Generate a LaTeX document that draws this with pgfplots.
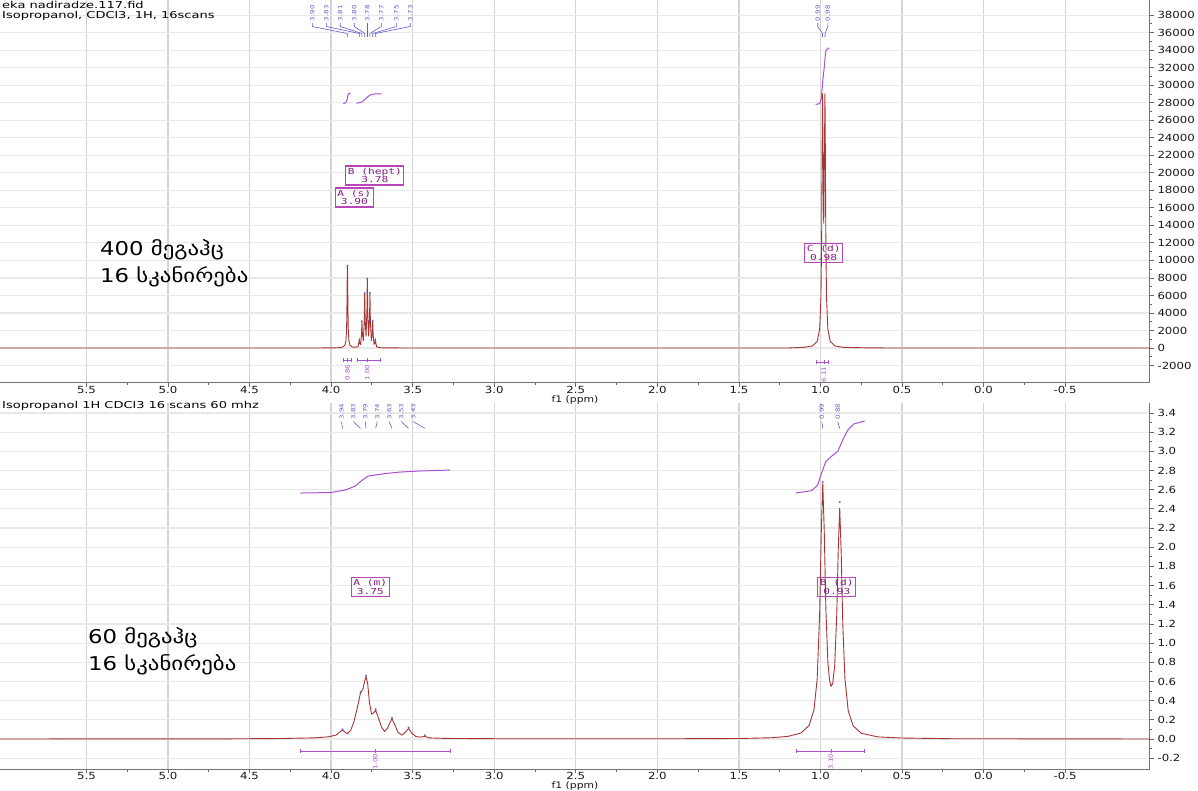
\documentclass[border=0pt]{standalone}
\usepackage{fontspec}
\usepackage{pgfplots}
\pgfplotsset{compat=1.18}
\setmainfont{DejaVu Sans}[FakeStretch=1.2]
\newfontfamily\titlefont{DejaVu Sans}[FakeStretch=1.37]
\newfontfamily\geofont{DejaVu Sans}[FakeStretch=1.2]
\newfontfamily\boxfont{DejaVu Sans Mono}[FakeStretch=1.35]
\definecolor{specred}{RGB}{168,52,52}
\definecolor{intpurple}{RGB}{170,80,210}
\definecolor{boxpurple}{RGB}{185,70,185}
\definecolor{boxtext}{RGB}{130,30,130}
\definecolor{peakblue}{RGB}{95,95,205}
\newcommand\tickfont{\fontsize{9.8}{10}\selectfont}
\newcommand\tinyfont{\fontsize{5.8}{6}\selectfont}
\tikzset{lbl/.style={rotate=90, anchor=west, font=\tinyfont, text=peakblue, inner sep=0pt}}
\newcommand\toplbl[3]{\node[lbl] at (axis cs:#1,37300) {#3};
  \draw[peakblue, line width=0.6pt] (axis cs:#1,37100) -- (axis cs:#1,36700) -- (axis cs:#2,35900) -- (axis cs:#2,35500);}
\newcommand\botlbl[3]{\node[lbl] at (axis cs:#1,3.33) {#3};
  \draw[peakblue, line width=0.6pt] (axis cs:#1,3.31) -- (axis cs:#2,3.24);}
\newcommand\pbox[3]{\node[draw=boxpurple, line width=1.1pt, text=boxtext, font=\boxfont\fontsize{8.3}{8.6}\selectfont, align=center, inner sep=2pt] at (axis cs:#1,#2) {#3};}
\newcommand\intlbl[3]{\node[rotate=90, anchor=east, font=\tinyfont, text=intpurple, inner sep=0pt] at (axis cs:#1,#2) {#3};}
\pgfplotsset{
  nmr/.style={
    scale only axis, width=1150pt, anchor=south west,
    x dir=reverse, xmin=-1.02, xmax=6.03, clip=false,
    axis x line*=bottom, axis y line*=right,
    axis line style={-,draw=black!55,line width=1pt},
    xtick={-0.5,0,0.5,1,1.5,2,2.5,3,3.5,4,4.5,5,5.5}, minor x tick num=1,
    minor y tick num=1,
    grid=major,
    x grid style={draw=black!17,line width=1.3pt},
    y grid style={draw=black!9,line width=1.2pt},
    tick style={draw=black!60,line width=0.8pt},
    major tick length=4pt, minor tick length=2.5pt, tick align=outside,
    tick label style={font=\tickfont, text=black!90},
    /pgf/number format/assume math mode=true,
    xticklabel style={inner sep=1pt, /pgf/number format/fixed,/pgf/number format/fixed zerofill,/pgf/number format/precision=1},
    xticklabel shift=-2pt,
    scaled y ticks=false,
  },
}
\begin{document}
\begin{tikzpicture}
\useasboundingbox (0pt,0pt) rectangle (1198pt,790pt);
\fill[white] (0pt,0pt) rectangle (1198pt,790pt);
% ---------------- top: 400 MHz ----------------
\begin{axis}[nmr, at={(0pt,407pt)}, height=383pt,
  ymin=-3995, ymax=39726,
  ytick={-2000,0,2000,4000,6000,8000,10000,12000,14000,16000,18000,20000,22000,24000,26000,28000,30000,32000,34000,36000,38000},
  yticklabel style={/pgf/number format/fixed,/pgf/number format/1000 sep={}},
]
\addplot[specred, line width=0.9pt] coordinates {
(6.03,0) (4.10,0) (3.98,15) (3.95,40) (3.93,93) (3.915,330) (3.909,850) (3.905,2200)
(3.903,4700) (3.9015,7520) (3.900,9400) (3.8985,7520) (3.897,4700) (3.895,2200) (3.891,850)
(3.885,330) (3.87,110) (3.85,90) (3.835,155) (3.827,900) (3.8245,530) (3.819,420)
(3.8135,1590) (3.811,3060) (3.8085,1660) (3.8025,815) (3.7965,3230) (3.794,6280) (3.7915,3300)
(3.786,1330) (3.7805,4110) (3.778,7920) (3.7755,4110) (3.770,1330) (3.7645,3300) (3.762,6280)
(3.7595,3230) (3.7535,815) (3.7475,1660) (3.745,3060) (3.7425,1590) (3.737,420) (3.7315,530)
(3.729,900) (3.721,140) (3.710,55) (3.69,25) (3.65,10) (3.5,0) (1.2,0) (1.10,77) (1.05,229)
(1.02,744) (1.005,2172) (0.997,5800) (0.9925,13320) (0.990,22180) (0.9875,29070) (0.985,23600)
(0.980,14200) (0.975,23600) (0.9725,29070) (0.970,22180) (0.9675,13320) (0.963,5800)
(0.955,2172) (0.94,744) (0.91,229) (0.86,77) (0.7,10) (0.5,0) (-1.02,0)};
\addplot[only marks, mark=*, mark size=0.7pt, peakblue] coordinates {
(3.900,9400) (3.827,900) (3.811,3060) (3.794,6280) (3.778,7920) (3.762,6280) (3.745,3060) (3.729,900)};
% integrals
\addplot[intpurple, line width=1pt] coordinates {
(3.925,27900) (3.91,28000) (3.903,28300) (3.90,28550) (3.897,28850) (3.89,29050) (3.88,29100)};
\addplot[intpurple, line width=1pt] coordinates {
(3.845,27950) (3.83,27980) (3.81,28100) (3.795,28350) (3.78,28600) (3.765,28830) (3.75,28950) (3.73,29000) (3.69,29020)};
\addplot[intpurple, line width=1pt] coordinates {
(1.03,27800) (1.005,27900) (0.995,28500) (0.99,29500) (0.985,30700) (0.98,31500) (0.975,32400) (0.97,33500) (0.965,34000) (0.955,34200) (0.945,34250)};
% integration bars
\addplot[intpurple, line width=0.7pt, mark=|, mark size=2pt] coordinates {(3.925,-1400) (3.875,-1400)};
\addplot[intpurple, line width=0.7pt, mark=|, mark size=2pt] coordinates {(3.84,-1400) (3.70,-1400)};
\addplot[intpurple, line width=0.7pt, mark=|, mark size=2pt] coordinates {(1.023,-1600) (0.949,-1600)};
\addplot[intpurple, only marks, mark=|, mark size=2pt] coordinates {(3.90,-1400) (3.778,-1400) (0.98,-1600)};
\intlbl{3.90}{-1900}{0.86}
\intlbl{3.778}{-1900}{1.00}
\intlbl{0.98}{-2100}{6.11}
% peak label boxes
\pbox{3.858}{17180}{A (s)\\3.90}
\pbox{3.732}{19690}{B (hept)\\3.78}
\pbox{0.98}{10845}{C (d)\\0.98}
% peak list
\toplbl{4.115}{3.900}{3.90}
\toplbl{4.029}{3.827}{3.83}
\toplbl{3.944}{3.811}{3.81}
\toplbl{3.858}{3.794}{3.80}
\toplbl{3.778}{3.778}{3.78}
\toplbl{3.692}{3.762}{3.77}
\toplbl{3.600}{3.745}{3.75}
\toplbl{3.515}{3.729}{3.73}
\toplbl{1.017}{0.9875}{0.99}
\toplbl{0.955}{0.9725}{0.98}
\node[anchor=north, font=\fontsize{9}{9}\selectfont, text=black!90, inner sep=0pt] at (rel axis cs:0.5,0) [yshift=-12pt] {f1 (ppm)};
\end{axis}
% ---------------- bottom: 60 MHz ----------------
\begin{axis}[nmr, at={(0pt,21pt)}, height=366pt,
  ymin=-0.313, ymax=3.504,
  ytick={-0.2,0,0.2,0.4,0.6,0.8,1.0,1.2,1.4,1.6,1.8,2.0,2.2,2.4,2.6,2.8,3.0,3.2,3.4},
  yticklabel style={/pgf/number format/fixed,/pgf/number format/fixed zerofill,/pgf/number format/precision=1},
]
\addplot[specred, line width=0.9pt] coordinates {
(6.03,0) (4.6,0.002) (4.30,0.005) (4.10,0.012) (4.02,0.022) (3.97,0.04) (3.945,0.075) (3.93,0.095)
(3.915,0.07) (3.90,0.055) (3.88,0.09) (3.86,0.18) (3.84,0.32) (3.82,0.48) (3.805,0.52) (3.795,0.60)
(3.786,0.65) (3.776,0.58) (3.765,0.38) (3.752,0.26) (3.74,0.27) (3.727,0.30) (3.71,0.22) (3.69,0.12)
(3.672,0.08) (3.655,0.11) (3.64,0.17) (3.627,0.21) (3.61,0.15) (3.59,0.07) (3.566,0.04) (3.545,0.07)
(3.525,0.11) (3.505,0.06) (3.48,0.025) (3.45,0.02) (3.425,0.028) (3.40,0.012) (3.30,0.006) (3.0,0.003)
(2.0,0.002) (1.5,0.005) (1.30,0.013) (1.20,0.027) (1.12,0.062) (1.07,0.141) (1.04,0.302) (1.02,0.630)
(1.005,1.31) (0.995,2.158) (0.986,2.671) (0.977,2.18) (0.967,1.362) (0.955,0.816) (0.945,0.619)
(0.935,0.550) (0.925,0.578) (0.913,0.762) (0.900,1.305) (0.891,1.974) (0.882,2.409) (0.873,1.947)
(0.863,1.185) (0.85,0.627) (0.83,0.295) (0.80,0.137) (0.75,0.060) (0.65,0.022) (0.50,0.01) (0.2,0.003) (-1.02,0)};
\addplot[only marks, mark=*, mark size=0.7pt, peakblue] coordinates {
(3.93,0.10) (3.82,0.49) (3.786,0.66) (3.727,0.31) (3.627,0.22) (3.525,0.12) (3.425,0.04) (0.986,2.68) (0.882,2.47)};
% integrals
\addplot[intpurple, line width=1pt] coordinates {
(4.189,2.565) (4.005,2.57) (3.913,2.596) (3.852,2.638) (3.809,2.70) (3.773,2.742) (3.730,2.753)
(3.668,2.768) (3.576,2.784) (3.454,2.795) (3.270,2.805)};
\addplot[intpurple, line width=1pt] coordinates {
(1.151,2.565) (1.053,2.59) (1.017,2.65) (0.992,2.78) (0.968,2.89) (0.931,2.95) (0.894,3.00)
(0.863,3.12) (0.833,3.22) (0.796,3.285) (0.729,3.316)};
% integration bars
\addplot[intpurple, line width=0.7pt, mark=|, mark size=2pt] coordinates {(4.19,-0.125) (3.27,-0.125)};
\addplot[intpurple, line width=0.7pt, mark=|, mark size=2pt] coordinates {(1.145,-0.125) (0.729,-0.125)};
\addplot[intpurple, only marks, mark=|, mark size=2pt] coordinates {(3.73,-0.125) (0.937,-0.125)};
\intlbl{3.73}{-0.155}{1.00}
\intlbl{0.937}{-0.155}{3.10}
% boxes
\pbox{3.76}{1.585}{A (m)\\3.75}
\pbox{0.90}{1.585}{B (d)\\0.93}
% peak list
\botlbl{3.937}{3.93}{3.94}
\botlbl{3.864}{3.82}{3.83}
\botlbl{3.790}{3.786}{3.79}
\botlbl{3.717}{3.727}{3.74}
\botlbl{3.644}{3.627}{3.63}
\botlbl{3.570}{3.525}{3.53}
\botlbl{3.497}{3.425}{3.43}
\botlbl{0.992}{0.986}{0.99}
\botlbl{0.894}{0.882}{0.88}
\node[anchor=north, font=\fontsize{9}{9}\selectfont, text=black!90, inner sep=0pt] at (rel axis cs:0.5,0) [yshift=-12pt] {f1 (ppm)};
\end{axis}
% ---------------- titles and notes ----------------
\node[anchor=west, font=\titlefont\fontsize{9.5}{10}\selectfont, inner sep=0pt] at (2pt,785pt) {eka nadiradze.117.fid};
\node[anchor=west, font=\titlefont\fontsize{9.5}{10}\selectfont, inner sep=0pt] at (2pt,774pt) {Isopropanol, CDCl3, 1H, 16scans};
\node[anchor=west, font=\titlefont\fontsize{9.5}{10}\selectfont, inner sep=0pt] at (2pt,384pt) {Isopropanol 1H CDCl3 16 scans 60 mhz};
\node[anchor=west, font=\geofont\fontsize{19}{20}\selectfont, inner sep=0pt] at (100pt,540pt) {400 მეგაჰც};
\node[anchor=west, font=\geofont\fontsize{19}{20}\selectfont, inner sep=0pt] at (100pt,513pt) {16 სკანირება};
\node[anchor=west, font=\geofont\fontsize{19}{20}\selectfont, inner sep=0pt] at (88pt,152pt) {60 მეგაჰც};
\node[anchor=west, font=\geofont\fontsize{19}{20}\selectfont, inner sep=0pt] at (88pt,125pt) {16 სკანირება};
\end{tikzpicture}
\end{document}
